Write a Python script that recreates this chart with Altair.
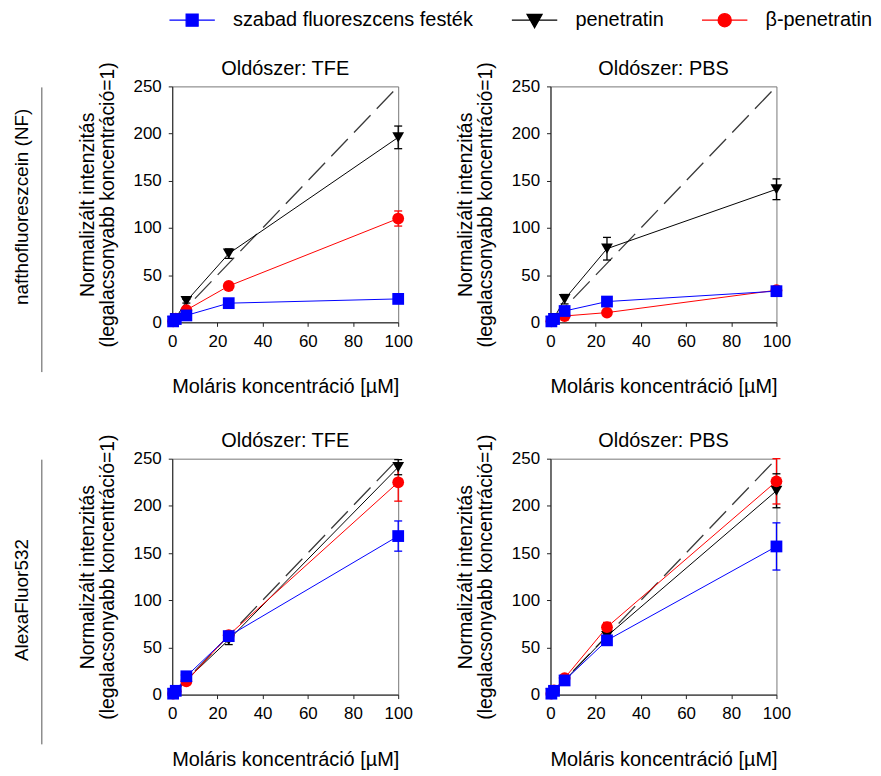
import altair as alt
import pandas as pd

FONT = "Liberation Sans"

conc = [0.39, 1.56, 6.25, 25, 100]
series = ["szabad fluoreszcens festék", "penetratin", "β-penetratin"]
series_colors = ["#0000ff", "#000000", "#ff0000"]
series_shapes = ["square", "triangle-down", "circle"]
draw_order = ["penetratin", "β-penetratin", "szabad fluoreszcens festék"]
dyes = ["nafthofluoreszcein (NF)", "AlexaFluor532"]
solvents = ["TFE", "PBS"]
panel_title_prefix = "Oldószer: "
x_title = "Moláris koncentráció [µM]"
y_title = ["Normalizált intenzitás", "(legalacsonyabb koncentráció=1)"]
x_ticks = [0, 20, 40, 60, 80, 100]
y_ticks = [0, 50, 100, 150, 200, 250]
ideal_x = [0, 100]
ideal_y = [0, 250]

# nafthofluoreszcein (NF), TFE
nf_tfe_free = [1.0, 3.5, 7.3, 20.3, 24.8]
nf_tfe_free_err = [0.2, 0.4, 0.8, 1.5, 2.0]
nf_tfe_pen = [1.0, 4.5, 22.4, 72.8, 196.0]
nf_tfe_pen_err = [0.2, 0.5, 2.0, 5.0, 12.0]
nf_tfe_bpen = [1.0, 4.0, 13.0, 38.5, 110.0]
nf_tfe_bpen_err = [0.2, 0.4, 1.5, 3.0, 8.0]
# nafthofluoreszcein (NF), PBS
nf_pbs_free = [1.0, 3.5, 12.0, 22.0, 33.0]
nf_pbs_free_err = [0.2, 0.4, 1.0, 2.0, 2.0]
nf_pbs_pen = [1.0, 4.5, 24.5, 78.0, 141.0]
nf_pbs_pen_err = [0.2, 0.6, 5.0, 12.0, 11.0]
nf_pbs_bpen = [1.0, 2.5, 6.7, 10.3, 34.0]
nf_pbs_bpen_err = [0.2, 0.3, 1.0, 1.5, 2.0]
# AlexaFluor532, TFE
af_tfe_free = [1.0, 4.0, 19.4, 62.0, 168.0]
af_tfe_free_err = [0.2, 0.5, 2.0, 4.0, 16.0]
af_tfe_pen = [1.0, 3.5, 15.5, 58.0, 241.0]
af_tfe_pen_err = [0.2, 0.5, 2.0, 5.0, 8.0]
af_tfe_bpen = [1.0, 3.5, 14.0, 63.0, 225.0]
af_tfe_bpen_err = [0.2, 0.5, 2.0, 4.0, 20.0]
# AlexaFluor532, PBS
af_pbs_free = [1.0, 4.0, 15.0, 57.5, 157.0]
af_pbs_free_err = [0.2, 0.5, 2.0, 5.0, 25.0]
af_pbs_pen = [1.0, 4.0, 15.0, 62.0, 216.0]
af_pbs_pen_err = [0.2, 0.5, 2.0, 4.0, 18.0]
af_pbs_bpen = [1.0, 4.5, 17.5, 71.5, 226.0]
af_pbs_bpen_err = [0.2, 0.5, 2.0, 5.0, 24.0]

values = {
    (dyes[0], "TFE"): {series[0]: (nf_tfe_free, nf_tfe_free_err), series[1]: (nf_tfe_pen, nf_tfe_pen_err), series[2]: (nf_tfe_bpen, nf_tfe_bpen_err)},
    (dyes[0], "PBS"): {series[0]: (nf_pbs_free, nf_pbs_free_err), series[1]: (nf_pbs_pen, nf_pbs_pen_err), series[2]: (nf_pbs_bpen, nf_pbs_bpen_err)},
    (dyes[1], "TFE"): {series[0]: (af_tfe_free, af_tfe_free_err), series[1]: (af_tfe_pen, af_tfe_pen_err), series[2]: (af_tfe_bpen, af_tfe_bpen_err)},
    (dyes[1], "PBS"): {series[0]: (af_pbs_free, af_pbs_free_err), series[1]: (af_pbs_pen, af_pbs_pen_err), series[2]: (af_pbs_bpen, af_pbs_bpen_err)},
}

rows = []
for (dye, solv), per in values.items():
    for s in draw_order:
        vals, errs = per[s]
        for c, v, e in zip(conc, vals, errs):
            rows.append({"dye": dye, "solvent": solv, "series": s, "conc": c,
                         "value": v, "lo": v - e, "hi": v + e})
df = pd.DataFrame(rows)
ideal_df = pd.DataFrame({"conc": ideal_x, "value": ideal_y})

W, H = 227, 237

xscale = alt.Scale(domain=[0, 100], nice=False, zero=False)
yscale = alt.Scale(domain=[0, 250], nice=False)
xaxis = alt.Axis(values=x_ticks, title=x_title, titlePadding=28, labelFlush=False)
yaxis = alt.Axis(values=y_ticks, title=y_title, titlePadding=16, titleLineHeight=20,
                 labelFlush=False, titleFontSize=19.5)
cscale = alt.Scale(domain=series, range=series_colors)
sscale = alt.Scale(domain=series, range=series_shapes)


def X(field):
    return alt.X(f"{field}:Q", scale=xscale, axis=xaxis, title=x_title)


def Y(field):
    return alt.Y(f"{field}:Q", scale=yscale, axis=yaxis, title=y_title)


def panel(dye, solv):
    d = df[(df.dye == dye) & (df.solvent == solv)]
    base = alt.Chart(d)
    col = alt.Color("series:N", scale=cscale, legend=None)
    ideal = alt.Chart(ideal_df).mark_line(
        color="#3a3a3a", strokeWidth=1.3, strokeDash=[24, 9]
    ).encode(x=X("conc"), y=Y("value"))
    lines = base.mark_line(strokeWidth=1).encode(x=X("conc"), y=Y("value"), color=col)
    bars = base.mark_rule(strokeWidth=1.3).encode(x=X("conc"), y=Y("lo"), y2="hi:Q", color=col)
    cap_lo = base.mark_point(shape="stroke", size=64, strokeWidth=1.3, filled=False, opacity=1).encode(
        x=X("conc"), y=Y("lo"), color=col)
    cap_hi = base.mark_point(shape="stroke", size=64, strokeWidth=1.3, filled=False, opacity=1).encode(
        x=X("conc"), y=Y("hi"), color=col)
    pts = base.mark_point(filled=True, size=140, opacity=1).encode(
        x=X("conc"), y=Y("value"), color=col,
        shape=alt.Shape("series:N", scale=sscale, legend=None))
    return alt.layer(ideal, lines, bars, cap_lo, cap_hi, pts).properties(
        width=W, height=H,
        title=alt.TitleParams(text=panel_title_prefix + solv, fontSize=20, font=FONT,
                              fontWeight="normal", offset=-17, color="black"),
    )


legend_paths = [
    "M-3.8,0H3.8M-1,-1H1V1H-1Z",
    "M-3.8,0H3.8M-1.25,-0.95H1.25L0,1.25Z",
    "M-3.8,0H3.8M-1.1,0A1.1,1.1,0,1,0,1.1,0A1.1,1.1,0,1,0,-1.1,0Z",
]
leg = alt.Legend(
    title=None, orient="none", legendX=173, legendY=-77, direction="horizontal", columns=3,
    labelFont=FONT, labelFontSize=20, labelColor="black", labelLimit=500, symbolSize=144,
    symbolStrokeWidth=1.3, labelOffset=31, columnPadding=35,
)
legend_layer = alt.Chart(pd.DataFrame({"series": series})).mark_point(
    filled=True, size=144, opacity=1
).encode(
    color=alt.Color("series:N", scale=alt.Scale(domain=series, range=series_colors), legend=leg),
    shape=alt.Shape("series:N", scale=alt.Scale(domain=series, range=legend_paths), legend=leg),
    stroke=alt.Stroke("series:N", scale=alt.Scale(domain=series, range=series_colors), legend=leg),
).transform_filter("false")

label_text_y = [121, 142]


def row_label(i, with_legend):
    d = pd.DataFrame({"dye": [dyes[i]]})
    txt = alt.Chart(d).mark_text(
        angle=270, fontSize=19, font=FONT, color="black", align="center", baseline="middle"
    ).encode(text="dye:N", x=alt.value(12), y=alt.value(label_text_y[i]))
    rule = alt.Chart(d).mark_rule(color="#555555", strokeWidth=1).encode(
        x=alt.value(32), y=alt.value(1), y2=alt.value(287))
    layers = [txt, rule]
    if with_legend:
        layers.append(legend_layer)
    return alt.layer(*layers).properties(width=10, height=H, view=alt.ViewBackground(strokeWidth=0))


chart = alt.concat(
    row_label(0, True), panel(dyes[0], "TFE"), panel(dyes[0], "PBS"),
    row_label(1, False), panel(dyes[1], "TFE"), panel(dyes[1], "PBS"),
    columns=3, spacing={"row": 137, "column": 153}, bounds="flush", align="each",
).resolve_scale(
    color="independent", shape="independent", stroke="independent"
).configure_view(
    stroke="#777777", strokeWidth=1
).configure_axis(
    labelFont=FONT, titleFont=FONT, labelFontSize=17, titleFontSize=20,
    titleFontWeight="normal", labelColor="black", titleColor="black",
    domainColor="#222222", tickColor="#222222", tickSize=4, labelPadding=7, grid=False,
).properties(
    padding={"left": 2, "top": 0, "right": 0, "bottom": 2}
)

chart.save("out.html", embed_options={"renderer": "svg", "actions": False})
